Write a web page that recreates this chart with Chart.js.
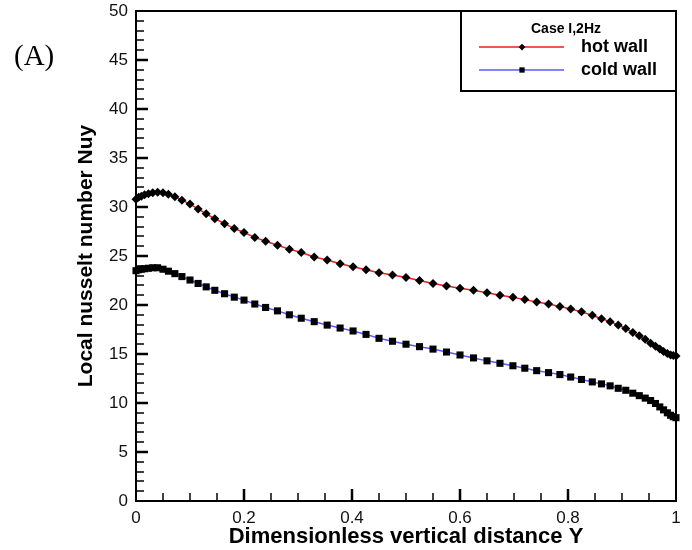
<!DOCTYPE html>
<html>
<head>
<meta charset="utf-8">
<title>Local Nusselt number</title>
<script src="https://cdn.jsdelivr.net/npm/chart.js@4.4.1/dist/chart.umd.min.js"></script>
<style>
  html, body { margin: 0; padding: 0; background: #fff; }
  #wrap { position: relative; width: 692px; height: 550px; }
  #panel { position: absolute; left: 14px; top: 39px; font: 29px "Liberation Serif", serif; color: #000; }
</style>
</head>
<body>
<div id="wrap">
  <canvas id="nuChart" width="692" height="550"></canvas>
  <div id="panel">(A)</div>
</div>
<script>
// dimensionless vertical position of each grid node
const yPos = [0, 0.005, 0.01, 0.016, 0.023, 0.031, 0.04, 0.05, 0.06, 0.072, 0.085, 0.1,
  0.115, 0.13, 0.146, 0.164, 0.182, 0.2, 0.22, 0.24, 0.262, 0.284, 0.306, 0.33, 0.354,
  0.378, 0.402, 0.426, 0.45, 0.475, 0.5, 0.525, 0.55, 0.575, 0.6, 0.625, 0.65, 0.674,
  0.698, 0.72, 0.742, 0.764, 0.785, 0.805, 0.825, 0.845, 0.862, 0.878, 0.893, 0.907,
  0.92, 0.932, 0.943, 0.953, 0.962, 0.97, 0.977, 0.984, 0.99, 0.995, 1.0];

// local Nusselt number along the hot wall
const hotWall = [30.8, 31.0, 31.1, 31.25, 31.35, 31.45, 31.5, 31.45, 31.3, 31.05, 30.7, 30.3,
  29.8, 29.3, 28.8, 28.3, 27.8, 27.4, 26.9, 26.5, 26.1, 25.7, 25.35, 24.9, 24.6,
  24.2, 23.9, 23.6, 23.3, 23.05, 22.8, 22.5, 22.2, 21.95, 21.7, 21.5, 21.25, 21.0,
  20.8, 20.55, 20.3, 20.1, 19.85, 19.6, 19.3, 18.95, 18.6, 18.3, 17.95, 17.6,
  17.2, 16.85, 16.5, 16.1, 15.8, 15.5, 15.25, 15.05, 14.9, 14.85, 14.8];

// local Nusselt number along the cold wall
const coldWall = [23.5, 23.6, 23.65, 23.7, 23.75, 23.8, 23.8, 23.65, 23.45, 23.2, 22.9, 22.55,
  22.2, 21.85, 21.5, 21.15, 20.8, 20.5, 20.1, 19.75, 19.4, 19.0, 18.65, 18.3, 17.95,
  17.65, 17.35, 17.0, 16.6, 16.3, 16.0, 15.75, 15.5, 15.2, 14.9, 14.6, 14.3, 14.05,
  13.8, 13.55, 13.3, 13.1, 12.9, 12.65, 12.4, 12.15, 11.95, 11.75, 11.5, 11.3,
  11.0, 10.75, 10.5, 10.25, 9.95, 9.6, 9.3, 9.0, 8.75, 8.6, 8.5];

const seriesNames = ['hot wall', 'cold wall'];
const legendTitle = 'Case I,2Hz';

const toPoints = vals => yPos.map((x, i) => ({ x: x, y: vals[i] }));

// box around the plot plus tecplot-style ticks pointing inwards
const frameTicks = {
  id: 'frameTicks',
  beforeDatasetsDraw(chart) {
    const { ctx, chartArea: a, scales: { x, y } } = chart;
    ctx.save();
    ctx.strokeStyle = '#000';
    ctx.lineWidth = 2;
    ctx.strokeRect(a.left, a.top, a.right - a.left, a.bottom - a.top);

    for (let v = 1; v < 50; v++) {
      const major = v % 5 === 0;
      const py = Math.round(y.getPixelForValue(v));
      ctx.lineWidth = major ? 2.5 : 1.5;
      ctx.beginPath();
      ctx.moveTo(a.left, py);
      ctx.lineTo(a.left + (major ? 12 : 8), py);
      ctx.stroke();
    }
    for (let k = 1; k < 20; k++) {
      const major = k % 4 === 0;
      const px = Math.round(x.getPixelForValue(k * 0.05));
      ctx.lineWidth = major ? 2.5 : 1.5;
      ctx.beginPath();
      ctx.moveTo(px, a.bottom);
      ctx.lineTo(px, a.bottom - (major ? 12 : 8));
      ctx.stroke();
    }
    ctx.restore();
  }
};

// legend box in the upper right corner
const wallLegend = {
  id: 'wallLegend',
  afterDraw(chart) {
    const { ctx, chartArea: a } = chart;
    const left = a.right - 215, top = a.top, bottom = a.top + 80;
    ctx.save();
    ctx.fillStyle = '#fff';
    ctx.fillRect(left, top, a.right - left, bottom - top);
    ctx.strokeStyle = '#000';
    ctx.lineWidth = 2;
    ctx.strokeRect(left, top, a.right - left, bottom - top);

    ctx.fillStyle = '#000';
    ctx.font = 'bold 14px "Liberation Sans", Arial, sans-serif';
    ctx.textAlign = 'center';
    ctx.textBaseline = 'middle';
    ctx.fillText(legendTitle, left + 105, top + 18);

    ctx.font = 'bold 18px "Liberation Sans", Arial, sans-serif';
    ctx.textAlign = 'left';
    chart.data.datasets.forEach((ds, i) => {
      const ly = top + 36 + i * 23;
      ctx.strokeStyle = ds.borderColor;
      ctx.lineWidth = ds.borderWidth;
      ctx.beginPath();
      ctx.moveTo(left + 18, ly);
      ctx.lineTo(left + 103, ly);
      ctx.stroke();
      ctx.fillStyle = '#000';
      ctx.strokeStyle = '#000';
      Chart.helpers.drawPoint(ctx, {
        pointStyle: ds.pointStyle, radius: ds.pointRadius * 0.75, rotation: 0, borderWidth: 0
      }, left + 61, ly);
      ctx.fillText(ds.label, left + 120, ly);
    });
    ctx.restore();
  }
};

new Chart(document.getElementById('nuChart'), {
  type: 'line',
  data: {
    datasets: [
      {
        label: seriesNames[0],
        data: toPoints(hotWall),
        borderColor: '#ee1c1c',
        borderWidth: 1.5,
        pointStyle: 'rectRot',
        pointRadius: 4.5,
        pointBackgroundColor: '#000',
        pointBorderWidth: 0,
        clip: false
      },
      {
        label: seriesNames[1],
        data: toPoints(coldWall),
        borderColor: '#5a5aff',
        borderWidth: 1.5,
        pointStyle: 'rect',
        pointRadius: 5,
        pointBackgroundColor: '#000',
        pointBorderWidth: 0,
        clip: false
      }
    ]
  },
  options: {
    responsive: false,
    animation: false,
    layout: { padding: { left: 0, top: 11, right: 16, bottom: 0 } },
    plugins: { legend: { display: false }, tooltip: { enabled: false } },
    scales: {
      x: {
        type: 'linear',
        min: 0,
        max: 1,
        grid: { display: false, drawTicks: false },
        border: { display: false },
        ticks: {
          stepSize: 0.2,
          color: '#111',
          padding: 7,
          font: { family: '"Liberation Sans", Arial, sans-serif', size: 17 },
          callback: v => String(Number(v.toFixed(2)))
        },
        title: {
          display: true,
          text: 'Dimensionless vertical distance Y',
          color: '#000',
          padding: { top: 0, bottom: 0 },
          font: { family: '"Liberation Sans", Arial, sans-serif', size: 22, weight: 'bold' }
        },
        afterFit: s => { s.height = 49; s.paddingLeft = 0; s.paddingRight = 0; }
      },
      y: {
        min: 0,
        max: 50,
        grid: { display: false, drawTicks: false },
        border: { display: false },
        ticks: {
          stepSize: 5,
          color: '#111',
          padding: 8,
          font: { family: '"Liberation Sans", Arial, sans-serif', size: 17 }
        },
        title: {
          display: true,
          text: 'Local nusselt number Nuy',
          color: '#000',
          padding: { top: 74, bottom: 0 },
          font: { family: '"Liberation Sans", Arial, sans-serif', size: 21, weight: 'bold' }
        },
        afterFit: s => { s.width = 136; s.paddingTop = 0; s.paddingBottom = 0; }
      }
    }
  },
  plugins: [frameTicks, wallLegend]
});
</script>
</body>
</html>
